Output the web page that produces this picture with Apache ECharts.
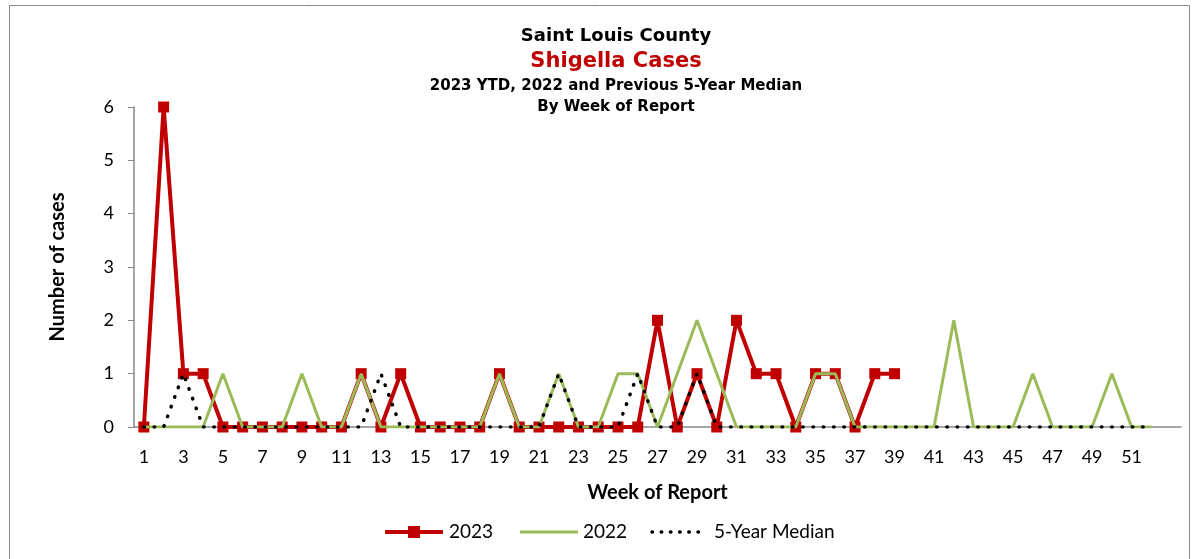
<!DOCTYPE html>
<html>
<head>
<meta charset="utf-8">
<script src="https://cdn.jsdelivr.net/npm/echarts@6/dist/echarts.min.js"></script>
<style>
  html, body { margin: 0; padding: 0; background: #fff; }
  #chart { width: 1195px; height: 559px; }
</style>
</head>
<body>
<div id="chart"></div>
<script>
// Week categories (1..53; label 53 not shown)
const weeks = Array.from({length: 53}, (_, i) => String(i + 1));
const yTicks = [0, 1, 2, 3, 4, 5, 6];
const seriesNames = ['2023', '2022', '5-Year Median'];

// 2023 YTD (weeks 1-39)
const cases2023 = [0,6,1,1,0,0,0,0,0,0,0,1,0,1,0,0,0,0,1,0,0,0,0,0,0,0,2,0,1,0,2,1,1,0,1,1,0,1,1];
// 2022 (weeks 1-52)
const cases2022 = [0,0,0,0,1,0,0,0,1,0,0,1,0,0,0,0,0,0,1,0,0,1,0,0,1,1,0,1,2,1,0,0,0,0,1,1,0,0,0,0,0,2,0,0,0,1,0,0,0,1,0,0];
// Previous 5-year median (weeks 1-52)
const median5 = [0,0,1,0,0,0,0,0,0,0,0,0,1,0,0,0,0,0,0,0,0,1,0,0,0,1,0,0,1,0,0,0,0,0,0,0,0,0,0,0,0,0,0,0,0,0,0,0,0,0,0,0];

const FONT = 'Lato';
const TFONT = 'DejaVu Sans';
const RED = '#C00000', GREEN = '#9BBB59';
const LY = 532;
const legendText = (x, t) => ({type: 'text', silent: true, x: x, y: LY,
  style: {text: t, fill: '#000', font: '19px ' + FONT, textVerticalAlign: 'middle', verticalAlign: 'middle'}});

const chart = echarts.init(document.getElementById('chart'), null, {renderer: 'canvas'});
chart.setOption({
  animation: false,
  backgroundColor: '#ffffff',
  graphic: [
    {type: 'rect', silent: true, z: -1,
     shape: {x: 9.5, y: 5.5, width: 1180, height: 600},
     style: {fill: 'none', stroke: '#8c8c8c', lineWidth: 1}},
    // legend (drawn by hand to match the original's swatches)
    {type: 'line', silent: true, shape: {x1: 385, y1: LY, x2: 443, y2: LY},
     style: {stroke: RED, lineWidth: 4}},
    {type: 'rect', silent: true, shape: {x: 408, y: LY - 6, width: 12, height: 12},
     style: {fill: RED}},
    legendText(449, seriesNames[0]),
    {type: 'line', silent: true, shape: {x1: 520, y1: LY, x2: 578, y2: LY},
     style: {stroke: GREEN, lineWidth: 3}},
    legendText(583, seriesNames[1]),
    {type: 'line', silent: true, shape: {x1: 652, y1: LY, x2: 699, y2: LY},
     style: {stroke: '#000', lineWidth: 3.5, lineDash: [0.5, 8.7], lineCap: 'round'}},
    legendText(714, seriesNames[2])
  ],
  title: [
    {text: 'Saint Louis County', left: 611, top: 22, textAlign: 'center',
     textStyle: {fontFamily: TFONT, fontWeight: 'bold', fontSize: 18, color: '#000'}},
    {text: 'Shigella Cases', left: 611, top: 46, textAlign: 'center',
     textStyle: {fontFamily: TFONT, fontWeight: 'bold', fontSize: 21, color: RED}},
    {text: '2023 YTD, 2022 and Previous 5-Year Median', left: 611, top: 74, textAlign: 'center',
     textStyle: {fontFamily: TFONT, fontWeight: 'bold', fontSize: 15, color: '#000'}},
    {text: 'By Week of Report', left: 611, top: 95, textAlign: 'center',
     textStyle: {fontFamily: TFONT, fontWeight: 'bold', fontSize: 15, color: '#000'}}
  ],
  legend: {show: false, data: seriesNames},
  grid: {left: 134, right: 14, top: 107, bottom: 132, containLabel: false},
  xAxis: {
    type: 'category', data: weeks, boundaryGap: true,
    name: 'Week of Report', nameLocation: 'middle', nameGap: 56,
    nameTextStyle: {fontFamily: FONT, fontWeight: 'bold', fontSize: 20, color: '#000'},
    axisLine: {lineStyle: {color: '#898989', width: 1.5}},
    axisTick: {show: false},
    axisLabel: {interval: 1, margin: 21, fontFamily: FONT, fontSize: 18, color: '#000',
      formatter: v => (v === '53' ? '' : v)}
  },
  yAxis: {
    type: 'value', min: 0, max: 6, interval: 1,
    name: 'Number of cases', nameLocation: 'middle', nameGap: 66, nameRotate: 90,
    nameTextStyle: {fontFamily: FONT, fontWeight: 'bold', fontSize: 20, color: '#000'},
    axisLine: {show: true, lineStyle: {color: '#898989', width: 1.5}},
    axisTick: {show: true, length: 6, lineStyle: {color: '#898989'}},
    splitLine: {show: false},
    axisLabel: {margin: 20, fontFamily: FONT, fontSize: 18, color: '#000',
      formatter: v => (yTicks.includes(v) ? String(v) : '')}
  },
  series: [
    {name: seriesNames[0], type: 'line', data: cases2023, z: 2,
     symbol: 'rect', symbolSize: 11, showAllSymbol: true,
     itemStyle: {color: RED},
     lineStyle: {color: RED, width: 4}},
    {name: seriesNames[1], type: 'line', data: cases2022, z: 3,
     symbol: 'none',
     itemStyle: {color: GREEN},
     lineStyle: {color: GREEN, width: 3}},
    {name: seriesNames[2], type: 'line', data: median5, z: 4,
     symbol: 'none',
     itemStyle: {color: '#000'},
     lineStyle: {color: '#000', width: 3.5, type: [0.5, 9.8], cap: 'round'}}
  ]
});
</script>
</body>
</html>
